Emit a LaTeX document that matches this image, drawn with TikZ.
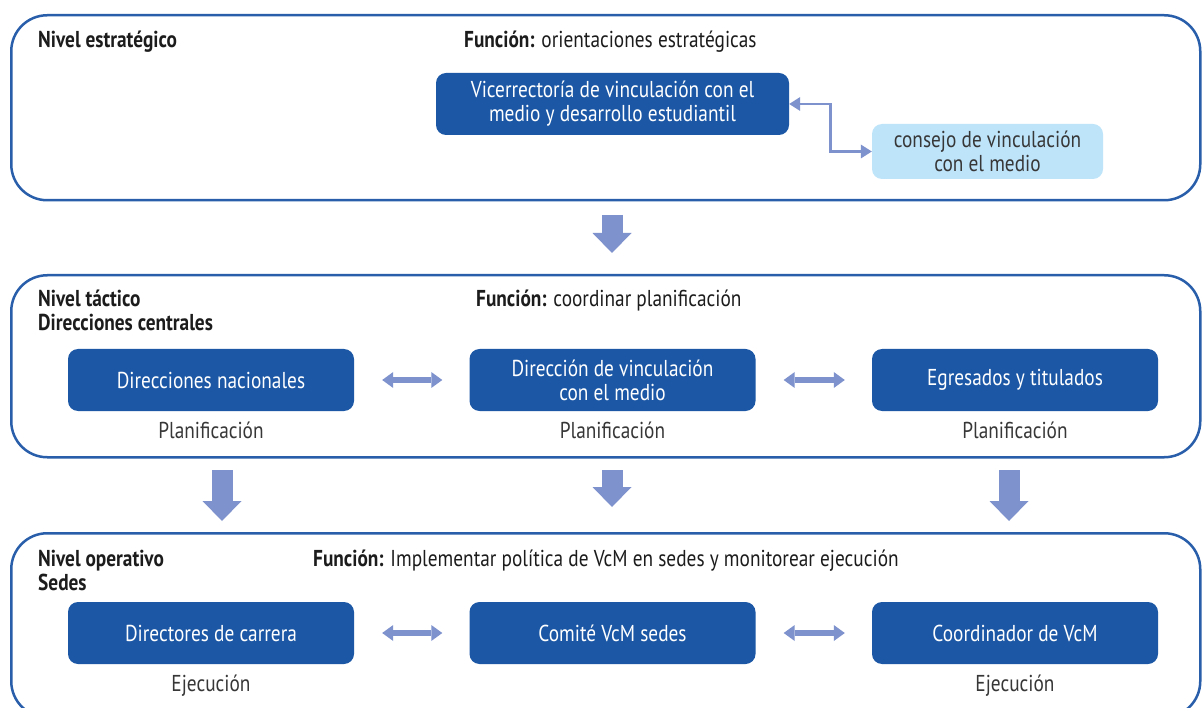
\documentclass[tikz,border=0pt]{standalone}
\usepackage{fontspec}
\setmainfont{PT Sans}[FakeStretch=0.84]
\usetikzlibrary{arrows.meta}
\definecolor{panelblue}{RGB}{40,94,170}
\definecolor{boxblue}{RGB}{27,87,165}
\definecolor{lightbox}{RGB}{190,228,250}
\definecolor{arrowc}{RGB}{126,146,205}
\definecolor{txtc}{RGB}{28,28,28}
\definecolor{lblc}{RGB}{55,55,55}
\begin{document}
\begin{tikzpicture}[x=1pt,y=-1pt,
  panel/.style={draw=panelblue, line width=2.5pt, fill=white, rounded corners=36pt, inner sep=0pt, anchor=north west},
  box/.style={fill=boxblue, text=white, rounded corners=10pt, align=center, inner sep=0pt,
              minimum width=286pt, minimum height=62pt, font=\fontsize{23}{24}\selectfont},
  lbox/.style={fill=lightbox, text=lblc, rounded corners=10pt, align=center, inner sep=0pt,
              minimum width=231pt, minimum height=55pt, font=\fontsize{23}{24}\selectfont},
  head/.style={text=txtc, anchor=base west, align=left, inner sep=0pt, font=\fontsize{23}{24}\selectfont},
  lbl/.style={text=lblc, anchor=base, inner sep=0pt, font=\fontsize{23}{24}\selectfont},
  blk/.style={draw=arrowc, line width=21pt, -{Triangle[length=20pt,width=39pt,line width=0pt]}},
  dbl/.style={draw=arrowc, line width=6pt, {Triangle[length=11pt,width=16pt,line width=0pt]}-{Triangle[length=11pt,width=16pt,line width=0pt]},
              shorten <=28pt, shorten >=27pt},
  elb/.style={draw=arrowc, line width=2.8pt, {Triangle[length=11pt,width=14pt,line width=0pt]}-{Triangle[length=11pt,width=14pt,line width=0pt]}}
]
\useasboundingbox[fill=white] (0,0) rectangle (1202,708);

% panels
\node[panel, minimum width=1189pt, minimum height=185pt] (p1) at (10,14) {};
\node[panel, minimum width=1189pt, minimum height=182pt] (p2) at (10,274) {};
\node[panel, minimum width=1189pt, minimum height=184pt] (p3) at (10,532) {};

% panel 1
\node[head] (h1) at (38,48) {\textbf{Nivel estratégico}};
\node[head] (f1) at (464,48) {\textbf{Función:} orientaciones estratégicas};
\node[box, minimum width=353pt] (vic) at (612.5,104) {Vicerrectoría de vinculación con el\\medio y desarrollo estudiantil};
\node[lbox] (con) at (987.5,151.5) {consejo de vinculación\\con el medio};
\draw[elb] (vic.east) -- ++(41,0) |- (con.west);

% arrow 1 -> 2
\coordinate (a1s) at (612,215);
\coordinate (a1e) at (612,253);
\draw[blk] (a1s) -- (a1e);

% panel 2
\node[head] (h2) at (38,331) {\textbf{Nivel táctico}\\\textbf{Direcciones centrales}};
\node[head] (f2) at (476,307) {\textbf{Función:} coordinar planificación};
\node[box] (dn) at (211,380) {Direcciones nacionales};
\node[box] (dv) at (612.5,380) {Dirección de vinculación\\con el medio};
\node[box] (eg) at (1015,380) {Egresados y titulados};
\node[lbl] (pl1) at (211,438) {Planificación};
\node[lbl] (pl2) at (612.5,438) {Planificación};
\node[lbl] (pl3) at (1015,438) {Planificación};
\draw[dbl] (dn.east) -- (dv.west);
\draw[dbl] (dv.east) -- (eg.west);

% arrows 2 -> 3
\coordinate (a2s) at (222,470);
\coordinate (a2e) at (222,521);
\coordinate (a3s) at (612,470);
\coordinate (a3e) at (612,507);
\coordinate (a4s) at (1009,470);
\coordinate (a4e) at (1009,521);
\draw[blk] (a2s) -- (a2e);
\draw[blk] (a3s) -- (a3e);
\draw[blk] (a4s) -- (a4e);

% panel 3
\node[head] (h3) at (38,590) {\textbf{Nivel operativo}\\\textbf{Sedes}};
\node[head] (f3) at (313,566) {\textbf{Función:} Implementar política de VcM en sedes y monitorear ejecución};
\node[box] (dc) at (211,633) {Directores de carrera};
\node[box] (cv) at (612.5,633) {Comité VcM sedes};
\node[box] (co) at (1015,633) {Coordinador de VcM};
\node[lbl] (ej1) at (211,691) {Ejecución};
\node[lbl] (ej2) at (1015,691) {Ejecución};
\draw[dbl] (dc.east) -- (cv.west);
\draw[dbl] (cv.east) -- (co.west);
\end{tikzpicture}
\end{document}
